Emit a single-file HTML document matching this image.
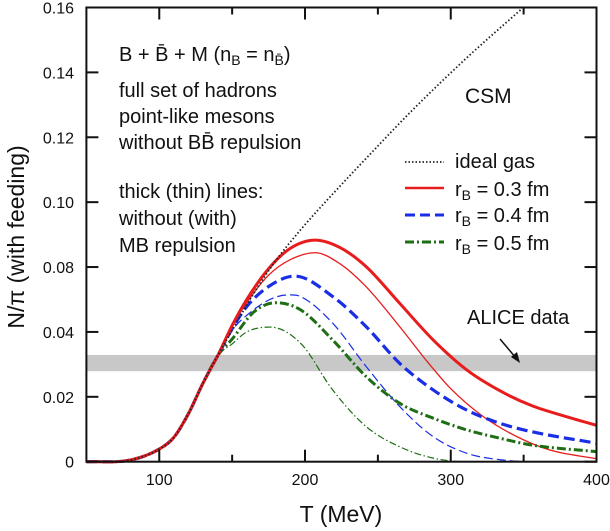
<!DOCTYPE html>
<html><head><meta charset="utf-8"><style>
html,body{margin:0;padding:0;background:#fff;}
svg{display:block;font-family:"Liberation Sans","DejaVu Sans",sans-serif;}
</style></head><body>
<svg id="chart" width="610" height="531" viewBox="0 0 610 531" xmlns="http://www.w3.org/2000/svg">
<rect id="band" fill="#c8c8c8"/>
<g id="curves"></g>
<g id="axes"></g>
<g font-size="20" fill="#111">
<text x="119" y="61">B + B̄ + M (n<tspan font-size="14" dy="4">B</tspan><tspan dy="-4"> = n</tspan><tspan font-size="14" dy="4">B̄</tspan><tspan dy="-4">)</tspan></text>
<text x="119" y="97">full set of hadrons</text>
<text x="119" y="123">point-like mesons</text>
<text x="119" y="149">without BB̄ repulsion</text>
<text x="119" y="198">thick (thin) lines:</text>
<text x="119" y="225">without (with)</text>
<text x="119" y="252">MB repulsion</text>
</g>
<text x="465" y="103" font-size="21" fill="#111">CSM</text>
<g font-size="20" fill="#111">
<g><line x1="405" y1="162" x2="444" y2="162" stroke="#222" stroke-width="1.8" stroke-dasharray="1.5,2"/><text x="455" y="168">ideal gas</text></g>
<g><line x1="405" y1="188" x2="444" y2="188" stroke="#e81c1c" stroke-width="2.5"/><text x="455" y="196">r<tspan font-size="14" dy="4">B</tspan><tspan dy="-4"> = 0.3 fm</tspan></text></g>
<g><line x1="405" y1="215" x2="444" y2="215" stroke="#1a2ee6" stroke-width="3" stroke-dasharray="10,5"/><text x="455" y="222">r<tspan font-size="14" dy="4">B</tspan><tspan dy="-4"> = 0.4 fm</tspan></text></g>
<g><line x1="405" y1="242" x2="444" y2="242" stroke="#1e6e14" stroke-width="3" stroke-dasharray="9,3,2,3"/><text x="455" y="250">r<tspan font-size="14" dy="4">B</tspan><tspan dy="-4"> = 0.5 fm</tspan></text></g>
</g>
<text x="467" y="324" font-size="20" fill="#111">ALICE data</text>
<g><line x1="500" y1="339" x2="516" y2="358" stroke="#111" stroke-width="1.5"/><polygon points="520,363 511,357 517,352" fill="#111"/></g>
<text x="341" y="522" font-size="23" text-anchor="middle" fill="#111">T (MeV)</text>
<text transform="translate(24,237) rotate(-90)" font-size="23" text-anchor="middle" fill="#111">N/π (with feeding)</text>
</svg>
<script>
const T_common=[50,80,100,110,120,130,140];
const V_common=[0,0.0005,0.0039,0.0075,0.0148,0.0242,0.0326];
const T_ideal=[150,165,180,197,220,243,274,311,348];
const V_ideal=[0.0405,0.052,0.062,0.0715,0.083,0.094,0.1085,0.1245,0.1393];
const T_redThick=[150,160,175,190,207,224,242,265,288,311,334,356,380,400];
const V_redThick=[0.042,0.050,0.0595,0.0658,0.0683,0.066,0.0601,0.0488,0.0375,0.0283,0.0218,0.0172,0.0138,0.0112];
const T_redThin=[150,160,175,190,207,224,242,265,284,300,322,345,368,400];
const V_redThin=[0.0418,0.049,0.0575,0.0623,0.0644,0.061,0.0539,0.0416,0.0308,0.0225,0.014,0.0078,0.0036,0.0009];
const T_blueThick=[150,160,175,193,219,242,265,288,311,334,356,400];
const V_blueThick=[0.041,0.0478,0.054,0.0572,0.0509,0.0416,0.0303,0.0221,0.0159,0.0118,0.0092,0.0057];
const T_blueThin=[150,160,175,188,197,219,242,265,288,311,334,360,400];
const V_blueThin=[0.0405,0.0451,0.0498,0.0514,0.0509,0.0427,0.0293,0.017,0.0077,0.0026,0.0006,0,0];
const T_greenThick=[150,165,180,197,219,242,265,288,311,334,356,400];
const V_greenThick=[0.0378,0.0462,0.049,0.0468,0.0375,0.0262,0.018,0.0134,0.0098,0.0072,0.0051,0.0031];
const T_greenThin=[150,160,176,197,219,242,265,288,311,400];
const V_greenThin=[0.0363,0.040,0.0415,0.0365,0.0221,0.0108,0.0046,0.0011,0,0];
const bandLow=0.0279, bandHigh=0.0329;
const xTicks=[100,200,300,400];
const xMinor=[150,250,350];
const yTicks=[0,0.02,0.04,0.06,0.08,0.10,0.12,0.14];
const yTickLabels=["0","0.02","0.04","0.08","0.10","0.12","0.14","0.16"];

const L=86.4,R=596.5,Tp=7.5,B=461.7;
const xS=t=>L+(t-50)/(400-50)*(R-L);
const yS=v=>B-v/0.14*(B-Tp);
const NS="http://www.w3.org/2000/svg";
function mk(tag,attrs,parent){const e=document.createElementNS(NS,tag);for(const k in attrs)e.setAttribute(k,attrs[k]);parent.appendChild(e);return e;}
function pathFrom(ts,vs){
  const p=ts.map((t,i)=>[xS(t),yS(vs[i])]);
  const n=p.length, m=[];
  for(let i=0;i<n;i++){
    if(i===0) m.push((p[1][1]-p[0][1])/(p[1][0]-p[0][0]));
    else if(i===n-1) m.push((p[n-1][1]-p[n-2][1])/(p[n-1][0]-p[n-2][0]));
    else {
      const d0=(p[i][1]-p[i-1][1])/(p[i][0]-p[i-1][0]);
      const d1=(p[i+1][1]-p[i][1])/(p[i+1][0]-p[i][0]);
      m.push(d0*d1<=0?0:(d0+d1)/2);
    }
  }
  let d="M"+p[0][0].toFixed(2)+","+p[0][1].toFixed(2);
  for(let i=0;i<n-1;i++){
    const h=p[i+1][0]-p[i][0];
    d+=" C"+(p[i][0]+h/3).toFixed(2)+","+(p[i][1]+m[i]*h/3).toFixed(2)+" "+(p[i+1][0]-h/3).toFixed(2)+","+(p[i+1][1]-m[i+1]*h/3).toFixed(2)+" "+p[i+1][0].toFixed(2)+","+p[i+1][1].toFixed(2);
  }
  return d;
}
const band=document.getElementById('band');
band.setAttribute('x',L);band.setAttribute('width',R-L);
band.setAttribute('y',yS(bandHigh));band.setAttribute('height',yS(bandLow)-yS(bandHigh));

const cg=document.getElementById('curves');
const series=[
 ['green-thin-curve',T_greenThin,V_greenThin,'#1e6e14',1.2,'7,2.5,1.5,2.5'],
 ['blue-thin-curve',T_blueThin,V_blueThin,'#1a2ee6',1.2,'9,4'],
 ['red-thin-curve',T_redThin,V_redThin,'#e81c1c',1.3,''],
 ['green-thick-curve',T_greenThick,V_greenThick,'#1e6e14',3,'9,3,2,3'],
 ['blue-thick-curve',T_blueThick,V_blueThick,'#1a2ee6',3.2,'11,5'],
 ['red-thick-curve',T_redThick,V_redThick,'#e81c1c',3,''],
 ['ideal-gas-curve',T_ideal,V_ideal,'#222',1.8,'1.5,2.2']
];
for(const s of series){
  const ts=T_common.concat(s[1]), vs=V_common.concat(s[2]);
  const el=mk('path',{d:pathFrom(ts,vs),fill:'none',stroke:s[3],'stroke-width':s[4]},cg);
  if(s[5])el.setAttribute('stroke-dasharray',s[5]);
  
  
}
const ag=document.getElementById('axes');
const fr=mk('rect',{x:L,y:Tp,width:R-L,height:B-Tp,fill:'none',stroke:'#111','stroke-width':2},ag);


xTicks.forEach(t=>{
  const x=xS(t);
  mk('line',{x1:x,y1:B,x2:x,y2:B-12,stroke:'#111','stroke-width':2},ag);
  mk('line',{x1:x,y1:Tp,x2:x,y2:Tp+12,stroke:'#111','stroke-width':2},ag);
  const tx=mk('text',{x:x,y:485,'font-size':16,'text-anchor':'middle',fill:'#111'},ag);
  tx.textContent=String(t);
  
  
});
xMinor.forEach(t=>{
  const x=xS(t);
  mk('line',{x1:x,y1:B,x2:x,y2:B-7,stroke:'#111','stroke-width':2},ag);
  mk('line',{x1:x,y1:Tp,x2:x,y2:Tp+7,stroke:'#111','stroke-width':2},ag);
});
yTicks.forEach((v,i)=>{
  const y=yS(v);
  mk('line',{x1:L,y1:y,x2:L+12,y2:y,stroke:'#111','stroke-width':2},ag);
  mk('line',{x1:R,y1:y,x2:R-12,y2:y,stroke:'#111','stroke-width':2},ag);
  const tx=mk('text',{x:74,y:y+6,'font-size':16,'text-anchor':'end',fill:'#111'},ag);
  tx.textContent=yTickLabels[i];
  
  
});
</script>
</body></html>
